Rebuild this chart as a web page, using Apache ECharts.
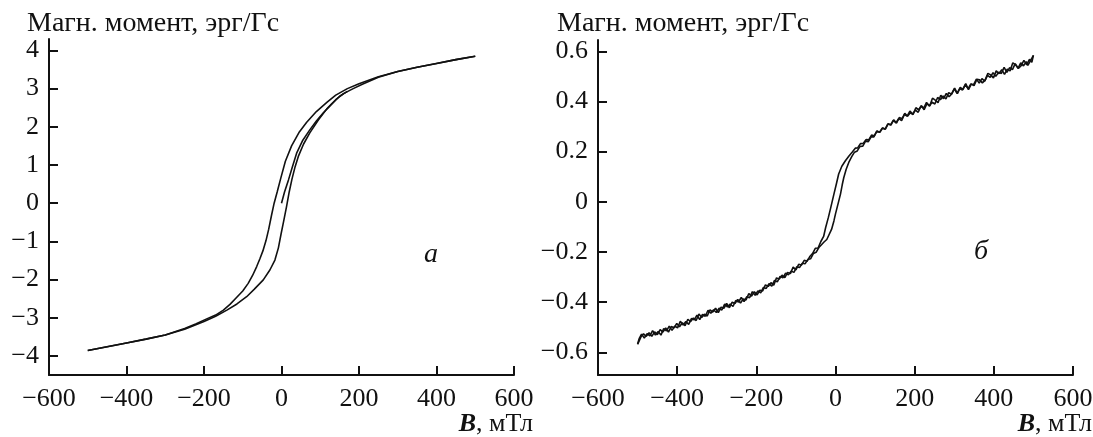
<!DOCTYPE html>
<html>
<head>
<meta charset="utf-8">
<script src="https://cdn.jsdelivr.net/npm/echarts@6/dist/echarts.min.js"></script>
<style>
  html, body { margin: 0; padding: 0; background: #fff; }
  #chart { width: 1093px; height: 437px; }
</style>
</head>
<body>
<div id="chart"></div>
<script>
// tick values
var xTicks = [-600, -400, -200, 0, 200, 400, 600];
var yTicksA = [-4, -3, -2, -1, 0, 1, 2, 3, 4];
var yTicksB = [-0.6, -0.4, -0.2, 0, 0.2, 0.4, 0.6];

// panel a: [B (mT), moment (erg/G)]
var loopA_down = [[500, 3.85], [450, 3.76], [400, 3.66], [350, 3.56], [300, 3.45], [250, 3.31], [200, 3.13],
  [170, 3.0], [140, 2.83], [117, 2.64], [90, 2.4], [65, 2.12], [45, 1.85], [26, 1.5], [10, 1.1], [-2, 0.65],
  [-11, 0.3], [-19, 0.0], [-26, -0.33], [-33, -0.68], [-40, -0.98], [-48, -1.25], [-56, -1.46], [-64, -1.66],
  [-75, -1.9], [-86, -2.1], [-100, -2.3], [-116, -2.47], [-133, -2.65], [-150, -2.8], [-170, -2.93],
  [-193, -3.03], [-220, -3.16], [-250, -3.28], [-300, -3.45], [-350, -3.56], [-400, -3.66], [-450, -3.76], [-500, -3.86]];
var loopA_up = [[-500, -3.86], [-450, -3.76], [-400, -3.66], [-350, -3.56], [-300, -3.45], [-250, -3.3],
  [-200, -3.1], [-170, -2.96], [-141, -2.8], [-115, -2.64], [-90, -2.45], [-70, -2.25], [-47, -2.01],
  [-30, -1.75], [-17, -1.49], [-8, -1.17], [-1, -0.8], [6, -0.45], [13, -0.09], [20, 0.3], [27, 0.63],
  [35, 0.95], [44, 1.24], [57, 1.55], [73, 1.84], [95, 2.18], [117, 2.47], [140, 2.71], [160, 2.87],
  [185, 3.0], [210, 3.12], [250, 3.3], [300, 3.45], [350, 3.56], [400, 3.66], [450, 3.76], [500, 3.85]];
var initA = [[0, 0], [8, 0.3], [18, 0.61], [28, 0.95], [39, 1.31], [55, 1.65], [73, 1.92], [90, 2.15],
  [108, 2.37], [130, 2.6], [150, 2.8], [170, 2.93]];

// panel б (noisy record, read point by point)
var loopB_down = [[500, 0.584], [496, 0.556], [490, 0.568], [483, 0.546], [476, 0.564], [469, 0.543],
  [462, 0.532], [455, 0.546], [448, 0.554], [441, 0.522], [434, 0.529], [427, 0.508], [420, 0.527],
  [413, 0.511], [406, 0.522], [399, 0.494], [392, 0.506], [385, 0.512], [378, 0.485], [371, 0.474],
  [364, 0.486], [357, 0.488], [350, 0.463], [343, 0.469], [336, 0.447], [329, 0.471], [322, 0.448],
  [315, 0.456], [308, 0.431], [301, 0.453], [294, 0.431], [287, 0.419], [280, 0.432], [273, 0.411],
  [266, 0.425], [259, 0.395], [252, 0.405], [245, 0.413], [238, 0.382], [231, 0.391], [224, 0.367],
  [217, 0.383], [210, 0.367], [203, 0.375], [196, 0.348], [189, 0.355], [182, 0.341], [175, 0.353],
  [168, 0.331], [161, 0.336], [154, 0.314], [147, 0.327], [140, 0.306], [133, 0.311], [126, 0.290],
  [119, 0.294], [112, 0.277], [105, 0.283], [98, 0.263], [91, 0.266], [84, 0.247], [77, 0.248],
  [70, 0.233], [63, 0.232], [56, 0.215], [50, 0.214], [42, 0.198], [34, 0.183], [25, 0.164], [16, 0.142],
  [8, 0.111], [2, 0.070], [-4, 0.031], [-8, 0.004], [-12, -0.023], [-18, -0.062], [-25, -0.103],
  [-30, -0.138], [-37, -0.158], [-44, -0.184], [-51, -0.185], [-58, -0.206], [-65, -0.218], [-72, -0.237],
  [-79, -0.233], [-86, -0.252], [-93, -0.249], [-100, -0.271], [-107, -0.260], [-114, -0.286],
  [-121, -0.281], [-128, -0.302], [-135, -0.292], [-142, -0.308], [-149, -0.303], [-156, -0.332],
  [-163, -0.322], [-170, -0.337], [-177, -0.331], [-184, -0.355], [-191, -0.352], [-198, -0.371],
  [-205, -0.358], [-212, -0.376], [-219, -0.366], [-226, -0.391], [-233, -0.387], [-240, -0.403],
  [-247, -0.389], [-254, -0.405], [-261, -0.400], [-268, -0.422], [-275, -0.405], [-282, -0.424],
  [-289, -0.420], [-296, -0.441], [-303, -0.424], [-310, -0.439], [-317, -0.430], [-324, -0.455],
  [-331, -0.448], [-338, -0.461], [-345, -0.447], [-352, -0.473], [-359, -0.463], [-366, -0.477],
  [-373, -0.468], [-380, -0.493], [-387, -0.482], [-394, -0.498], [-401, -0.485], [-408, -0.502],
  [-415, -0.497], [-422, -0.519], [-429, -0.503], [-436, -0.519], [-443, -0.509], [-450, -0.529],
  [-457, -0.518], [-464, -0.536], [-471, -0.522], [-478, -0.536], [-485, -0.526], [-492, -0.540],
  [-497, -0.545], [-500, -0.568]];
var loopB_up = [[-500, -0.566], [-496, -0.545], [-490, -0.527], [-483, -0.543], [-476, -0.525],
  [-469, -0.534], [-462, -0.513], [-455, -0.531], [-448, -0.517], [-441, -0.531], [-434, -0.505],
  [-427, -0.514], [-420, -0.495], [-413, -0.512], [-406, -0.496], [-399, -0.502], [-392, -0.476],
  [-385, -0.491], [-378, -0.477], [-371, -0.488], [-364, -0.465], [-357, -0.470], [-350, -0.452],
  [-343, -0.469], [-336, -0.448], [-329, -0.456], [-322, -0.432], [-315, -0.444], [-308, -0.430],
  [-301, -0.441], [-294, -0.424], [-287, -0.431], [-280, -0.407], [-273, -0.419], [-266, -0.407],
  [-259, -0.417], [-252, -0.393], [-245, -0.399], [-238, -0.381], [-231, -0.397], [-224, -0.378],
  [-217, -0.382], [-210, -0.358], [-203, -0.372], [-196, -0.355], [-189, -0.363], [-182, -0.341],
  [-175, -0.345], [-168, -0.326], [-161, -0.336], [-154, -0.313], [-147, -0.319], [-140, -0.297],
  [-133, -0.303], [-126, -0.284], [-119, -0.291], [-112, -0.276], [-105, -0.281], [-98, -0.259],
  [-91, -0.262], [-84, -0.245], [-77, -0.247], [-70, -0.230], [-63, -0.227], [-56, -0.206], [-49, -0.201],
  [-42, -0.182], [-36, -0.172], [-29, -0.160], [-22, -0.150], [-17, -0.143], [-10, -0.110], [-4, -0.076],
  [0, -0.048], [4, -0.023], [8, 0.002], [12.6, 0.031], [17, 0.068], [21, 0.097], [27, 0.130],
  [33.5, 0.157], [41, 0.180], [48, 0.198], [55, 0.203], [62, 0.221], [69, 0.222], [76, 0.242], [83, 0.240],
  [90, 0.259], [97, 0.259], [104, 0.281], [111, 0.277], [118, 0.294], [125, 0.289], [132, 0.310],
  [139, 0.307], [146, 0.325], [153, 0.315], [160, 0.332], [167, 0.324], [174, 0.348], [181, 0.342],
  [188, 0.362], [195, 0.350], [202, 0.366], [209, 0.357], [216, 0.382], [223, 0.374], [230, 0.396],
  [237, 0.382], [244, 0.397], [251, 0.390], [258, 0.416], [265, 0.407], [272, 0.422], [279, 0.410],
  [286, 0.435], [293, 0.429], [300, 0.450], [307, 0.433], [314, 0.451], [321, 0.446], [328, 0.467],
  [335, 0.451], [342, 0.470], [349, 0.467], [356, 0.489], [363, 0.473], [370, 0.491], [377, 0.481],
  [384, 0.504], [391, 0.496], [398, 0.515], [405, 0.500], [412, 0.516], [419, 0.512], [426, 0.536],
  [433, 0.516], [440, 0.535], [447, 0.527], [454, 0.551], [461, 0.532], [468, 0.554], [475, 0.542],
  [482, 0.559], [486, 0.544], [500, 0.584]];

var FONT = 'Liberation Serif';
var INK = '#111';

function minus(v) {
  return String(v).replace('-', '\u2212');
}

function xAxisOf(idx) {
  return {
    type: 'value', gridIndex: idx, min: -600, max: 600,
    name: '{b|B}, мТл', nameLocation: 'end', nameGap: 19, nameMoveOverlap: false,
    nameTextStyle: {
      fontFamily: FONT, fontSize: 26, color: INK, align: 'right', verticalAlign: 'top',
      padding: [36, 0, 0, 0],
      rich: { b: { fontFamily: FONT, fontSize: 26, fontStyle: 'italic', fontWeight: 'bold', color: INK } }
    },
    axisLine: { onZero: false, lineStyle: { color: INK, width: 2 } },
    axisTick: { inside: true, length: 9, lineStyle: { color: INK, width: 2 }, customValues: xTicks },
    axisLabel: { fontFamily: FONT, fontSize: 26, color: INK, margin: 11, customValues: xTicks,
      formatter: minus, hideOverlap: false },
    splitLine: { show: false }
  };
}

function yAxisOf(idx, lo, hi, ticks) {
  return {
    type: 'value', gridIndex: idx, min: lo, max: hi,
    axisLine: { onZero: false, lineStyle: { color: INK, width: 2 } },
    axisTick: { inside: true, length: 9, lineStyle: { color: INK, width: 2 }, customValues: ticks },
    axisLabel: { fontFamily: FONT, fontSize: 26, color: INK, margin: 10, customValues: ticks, formatter: minus },
    splitLine: { show: false }
  };
}

function line(data, xi) {
  return {
    type: 'line', data: data, xAxisIndex: xi, yAxisIndex: xi,
    showSymbol: false, lineStyle: { color: INK, width: 1.6 }, animation: false
  };
}

var chart = echarts.init(document.getElementById('chart'));
chart.setOption({
  backgroundColor: '#fff',
  animation: false,
  title: [
    { text: 'Магн. момент, эрг/Гс', left: 27, top: 10, padding: 0,
      textStyle: { fontFamily: FONT, fontSize: 28, fontWeight: 'normal', color: INK } },
    { text: 'Магн. момент, эрг/Гс', left: 557, top: 10, padding: 0,
      textStyle: { fontFamily: FONT, fontSize: 28, fontWeight: 'normal', color: INK } },
    { text: 'а', left: 424, top: 241, padding: 0,
      textStyle: { fontFamily: FONT, fontSize: 28, fontStyle: 'italic', fontWeight: 'normal', color: INK } },
    { text: 'б', left: 974, top: 238, padding: 0,
      textStyle: { fontFamily: FONT, fontSize: 28, fontStyle: 'italic', fontWeight: 'normal', color: INK } }
  ],
  grid: [
    { left: 49, top: 39, width: 465, height: 336, outerBoundsMode: 'none', containLabel: false },
    { left: 598, top: 40, width: 475, height: 335, outerBoundsMode: 'none', containLabel: false }
  ],
  xAxis: [xAxisOf(0), xAxisOf(1)],
  yAxis: [yAxisOf(0, -4.5, 4.3, yTicksA), yAxisOf(1, -0.69, 0.645, yTicksB)],
  series: [
    line(loopA_down, 0), line(loopA_up, 0), line(initA, 0),
    line(loopB_down, 1), line(loopB_up, 1)
  ]
});
</script>
</body>
</html>
